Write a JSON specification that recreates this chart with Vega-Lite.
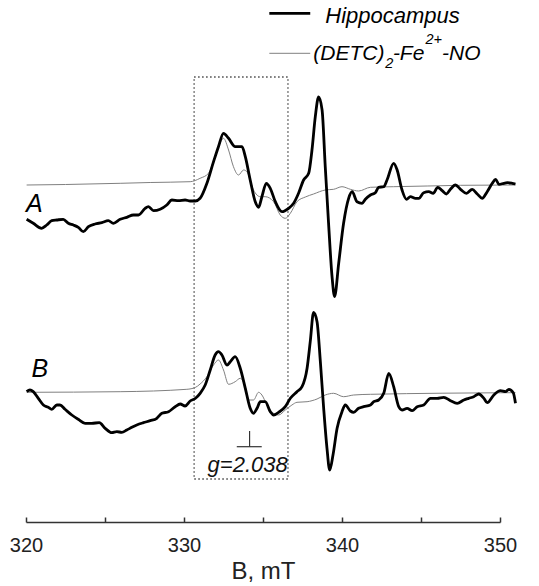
{
  "$schema": "https://vega.github.io/schema/vega-lite/v6.json",
  "width": 474,
  "height": 522,
  "autosize": "none",
  "padding": {"left": 26, "top": 0, "right": 39, "bottom": 64},
  "config": {"view": {"stroke": null}, "font": "Liberation Sans"},
  "datasets": {
    "hippA": [
      {"B":320.04,"I":302.7},{"B":320.46,"I":298.7},{"B":320.99,"I":293.7},{"B":321.31,"I":297},{"B":321.63,"I":301.3},{"B":321.95,"I":302},{"B":322.36,"I":302.7},{"B":322.68,"I":298.7},{"B":323.0,"I":297},{"B":323.31,"I":294.7},{"B":323.63,"I":290.3},{"B":323.95,"I":295.3},{"B":324.37,"I":298},{"B":324.8,"I":299.3},{"B":325.21,"I":301.3},{"B":325.53,"I":298.7},{"B":325.96,"I":302.7},{"B":326.38,"I":304.7},{"B":326.8,"I":307},{"B":327.12,"I":307},{"B":327.54,"I":313.7},{"B":327.75,"I":315.3},{"B":328.07,"I":311.3},{"B":328.49,"I":312.7},{"B":328.91,"I":317},{"B":329.23,"I":322},{"B":329.65,"I":321.3},{"B":330.07,"I":322},{"B":330.39,"I":321},{"B":330.71,"I":321},{"B":331.02,"I":323.7},{"B":331.45,"I":338.7},{"B":331.87,"I":360.3},{"B":332.18,"I":375.3},{"B":332.5,"I":388.7},{"B":332.82,"I":383.7},{"B":333.24,"I":375.3},{"B":333.67,"I":375.3},{"B":333.88,"I":365.3},{"B":334.19,"I":342},{"B":334.51,"I":320.3},{"B":334.72,"I":314.7},{"B":334.93,"I":325.3},{"B":335.21,"I":338.7},{"B":335.46,"I":333.7},{"B":335.78,"I":320.3},{"B":336.2,"I":310.3},{"B":336.62,"I":313.7},{"B":336.94,"I":318.7},{"B":337.25,"I":328.7},{"B":337.57,"I":342},{"B":337.89,"I":348.7},{"B":338.1,"I":372},{"B":338.31,"I":405.3},{"B":338.52,"I":425},{"B":338.74,"I":412},{"B":338.94,"I":355.3},{"B":339.15,"I":298.7},{"B":339.37,"I":245.3},{"B":339.53,"I":225.5},{"B":339.79,"I":258.7},{"B":340.1,"I":298.7},{"B":340.42,"I":323.7},{"B":340.64,"I":330.3},{"B":340.95,"I":320.3},{"B":341.27,"I":318.7},{"B":341.48,"I":322.7},{"B":341.8,"I":327},{"B":342.11,"I":329.3},{"B":342.32,"I":334.7},{"B":342.64,"I":335.3},{"B":342.85,"I":342},{"B":343.27,"I":358.7},{"B":343.49,"I":352},{"B":343.8,"I":332},{"B":344.08,"I":322.7},{"B":344.33,"I":325.3},{"B":344.65,"I":323.7},{"B":344.86,"I":323.7},{"B":345.17,"I":329.3},{"B":345.49,"I":330.3},{"B":345.77,"I":328.7},{"B":346.06,"I":334.7},{"B":346.34,"I":331.3},{"B":346.61,"I":328},{"B":346.86,"I":332.7},{"B":347.18,"I":337},{"B":347.5,"I":332.7},{"B":347.88,"I":328.7},{"B":348.24,"I":332.7},{"B":348.56,"I":328},{"B":348.87,"I":323.7},{"B":349.19,"I":330.3},{"B":349.51,"I":338.7},{"B":349.72,"I":342.7},{"B":349.93,"I":337.7},{"B":350.24,"I":338.7},{"B":350.46,"I":339.3},{"B":350.77,"I":338.7},{"B":350.98,"I":338}
    ],
    "detcA": [
      {"B":320.04,"I":337},{"B":322.5,"I":337.5},{"B":325.96,"I":338.7},{"B":327.86,"I":339.5},{"B":330.39,"I":340.3},{"B":331.02,"I":343.7},{"B":331.55,"I":348.7},{"B":331.97,"I":365.3},{"B":332.5,"I":383.7},{"B":332.82,"I":372},{"B":333.13,"I":355.3},{"B":333.45,"I":347},{"B":333.77,"I":352},{"B":333.98,"I":350.3},{"B":334.4,"I":332},{"B":334.83,"I":325.3},{"B":335.14,"I":325.3},{"B":335.67,"I":320.3},{"B":336.09,"I":307},{"B":336.41,"I":303.7},{"B":336.73,"I":308.7},{"B":337.15,"I":320.3},{"B":337.68,"I":325},{"B":338.2,"I":328},{"B":338.94,"I":332},{"B":339.47,"I":332.7},{"B":340.0,"I":335.3},{"B":340.53,"I":332.7},{"B":341.05,"I":331},{"B":341.8,"I":334.7},{"B":343.27,"I":335.3},{"B":345.39,"I":336},{"B":347.5,"I":336.7},{"B":350.98,"I":337}
    ],
    "hippB": [
      {"B":320.04,"I":130.3},{"B":320.25,"I":132},{"B":320.46,"I":130.3},{"B":320.78,"I":123.7},{"B":321.1,"I":117},{"B":321.41,"I":114.7},{"B":321.63,"I":112.7},{"B":321.95,"I":117},{"B":322.15,"I":117},{"B":322.47,"I":112.7},{"B":322.9,"I":107},{"B":323.31,"I":102.7},{"B":323.74,"I":98.7},{"B":324.16,"I":98.7},{"B":324.64,"I":99.3},{"B":325.01,"I":93.7},{"B":325.43,"I":89.3},{"B":325.75,"I":90.3},{"B":326.06,"I":89.7},{"B":326.38,"I":92},{"B":326.7,"I":94.7},{"B":327.01,"I":97},{"B":327.43,"I":99.3},{"B":327.86,"I":101.3},{"B":328.28,"I":103.7},{"B":328.6,"I":108.7},{"B":329.02,"I":110.3},{"B":329.44,"I":115.3},{"B":329.76,"I":118},{"B":330.07,"I":116},{"B":330.39,"I":121},{"B":330.71,"I":123.5},{"B":331.02,"I":128.7},{"B":331.34,"I":137},{"B":331.66,"I":152},{"B":331.97,"I":167},{"B":332.18,"I":170.3},{"B":332.4,"I":167},{"B":332.72,"I":157},{"B":332.93,"I":160.3},{"B":333.24,"I":165.3},{"B":333.56,"I":153.7},{"B":333.88,"I":133.7},{"B":334.19,"I":113.7},{"B":334.4,"I":108.7},{"B":334.62,"I":113.7},{"B":334.83,"I":120.3},{"B":335.14,"I":120.3},{"B":335.46,"I":110.3},{"B":335.67,"I":107},{"B":335.99,"I":109.7},{"B":336.41,"I":115.3},{"B":336.73,"I":123.7},{"B":337.15,"I":130.3},{"B":337.47,"I":135.3},{"B":337.79,"I":153.7},{"B":337.99,"I":180.3},{"B":338.2,"I":209.5},{"B":338.42,"I":200.3},{"B":338.63,"I":160.3},{"B":338.84,"I":113.7},{"B":339.05,"I":73.7},{"B":339.22,"I":52},{"B":339.43,"I":67},{"B":339.69,"I":93.7},{"B":340.0,"I":110.3},{"B":340.21,"I":117},{"B":340.53,"I":111},{"B":340.74,"I":109.7},{"B":341.05,"I":113.7},{"B":341.37,"I":115.3},{"B":341.8,"I":117},{"B":342.01,"I":120.3},{"B":342.32,"I":122},{"B":342.64,"I":128.7},{"B":342.96,"I":148.7},{"B":343.27,"I":135.3},{"B":343.59,"I":115.3},{"B":343.8,"I":112},{"B":344.12,"I":113.7},{"B":344.44,"I":111.3},{"B":344.76,"I":115.3},{"B":345.17,"I":117},{"B":345.6,"I":123.7},{"B":346.02,"I":123.7},{"B":346.44,"I":124.7},{"B":346.86,"I":121.3},{"B":347.29,"I":118.7},{"B":347.71,"I":122},{"B":348.02,"I":123.7},{"B":348.34,"I":125.3},{"B":348.66,"I":128},{"B":348.98,"I":123.7},{"B":349.19,"I":119.3},{"B":349.61,"I":127},{"B":350.03,"I":131.3},{"B":350.35,"I":130.3},{"B":350.56,"I":132.7},{"B":350.84,"I":129.3},{"B":350.98,"I":118.7}
    ],
    "detcB": [
      {"B":320.04,"I":129.7},{"B":325.96,"I":130.3},{"B":330.18,"I":132.7},{"B":330.71,"I":134.5},{"B":331.02,"I":138},{"B":331.45,"I":145.3},{"B":331.87,"I":157},{"B":332.18,"I":162},{"B":332.5,"I":152},{"B":332.82,"I":137.7},{"B":333.24,"I":140.3},{"B":333.56,"I":143.7},{"B":333.88,"I":135.3},{"B":334.09,"I":122},{"B":334.4,"I":122},{"B":334.72,"I":129.7},{"B":334.93,"I":127},{"B":335.25,"I":117},{"B":335.67,"I":108.7},{"B":335.99,"I":107},{"B":336.41,"I":112},{"B":336.83,"I":117},{"B":337.15,"I":119.7},{"B":337.79,"I":120.3},{"B":338.42,"I":123},{"B":338.94,"I":127},{"B":339.47,"I":128.7},{"B":340.1,"I":125.3},{"B":340.74,"I":127},{"B":341.8,"I":127.7},{"B":350.98,"I":129.3}
    ],
    "box": [{"B":330.64,"B2":336.58,"I":43,"I2":445}],
    "perp": [
      {"B":333.34,"B2":334.92,"I":75.3,"I2":75.3},
      {"B":334.15,"B2":334.15,"I":75.3,"I2":91}
    ],
    "legThick": [{"B":335.4,"B2":337.99,"I":508.7,"I2":508.7}],
    "legThin": [{"B":335.4,"B2":337.99,"I":468.7,"I2":468.7}],
    "legHippo": [
      {"B":338.94,"I":499.3,"t":"Hippocampus"}
    ],
    "legText": [
      {"B":338.18,"I":462.5,"t":"(DETC)"},
      {"B":343.22,"I":462.5,"t":"-Fe"},
      {"B":346.33,"I":462.5,"t":"-NO"}
    ],
    "legScript": [
      {"B":342.73,"I":454.3,"t":"2"},
      {"B":345.28,"I":478.2,"t":"2+"}
    ],
    "traceLabels": [
      {"B":320.0,"I":309.7,"t":"A"},
      {"B":320.35,"I":144.7,"t":"B"}
    ],
    "gLabel": [{"B":334.03,"I":50.3,"t":"g=2.038"}]
  },
  "encoding": {
    "x": {
      "field": "B", "type": "quantitative",
      "scale": {"domain": [320, 350], "nice": false, "zero": false},
      "axis": {
        "values": [320, 325, 330, 335, 340, 345, 350],
        "labelExpr": "datum.value % 10 == 0 ? datum.label : ''",
        "labelOverlap": false, "labelFlush": false,
        "grid": false,
        "tickSize": -5, "tickWidth": 1.5, "tickColor": "#333",
        "domainColor": "#333", "domainWidth": 1.5,
        "labelFont": "Liberation Sans", "labelFontSize": 20, "labelColor": "#222", "labelPadding": 18,
        "title": "B, mT", "titleFont": "Liberation Sans", "titleFontSize": 24, "titleFontWeight": "normal", "titleColor": "#222", "titlePadding": 4
      }
    },
    "y": {
      "field": "I", "type": "quantitative",
      "scale": {"domain": [0, 522], "nice": false, "zero": false},
      "axis": null
    }
  },
  "layer": [
    {"data": {"name": "box"}, "mark": {"type": "rect", "fillOpacity": 0, "stroke": "#444", "strokeWidth": 1.3, "strokeDash": [1.5, 2.5]},
     "encoding": {"x2": {"field": "B2"}, "y2": {"field": "I2"}}},
    {"data": {"name": "detcA"}, "mark": {"type": "line", "color": "#808080", "strokeWidth": 1, "interpolate": "monotone"}},
    {"data": {"name": "detcB"}, "mark": {"type": "line", "color": "#808080", "strokeWidth": 1, "interpolate": "monotone"}},
    {"data": {"name": "hippA"}, "mark": {"type": "line", "color": "#000", "strokeWidth": 2.8, "interpolate": "monotone"}},
    {"data": {"name": "hippB"}, "mark": {"type": "line", "color": "#000", "strokeWidth": 2.8, "interpolate": "monotone"}},
    {"data": {"name": "perp"}, "mark": {"type": "rule", "color": "#333", "strokeWidth": 1.2},
     "encoding": {"x2": {"field": "B2"}, "y2": {"field": "I2"}}},
    {"data": {"name": "legThick"}, "mark": {"type": "rule", "color": "#000", "strokeWidth": 2.8},
     "encoding": {"x2": {"field": "B2"}, "y2": {"field": "I2"}}},
    {"data": {"name": "legThin"}, "mark": {"type": "rule", "color": "#808080", "strokeWidth": 1},
     "encoding": {"x2": {"field": "B2"}, "y2": {"field": "I2"}}},
    {"data": {"name": "legHippo"}, "mark": {"type": "text", "align": "left", "baseline": "alphabetic", "fontSize": 22, "fontStyle": "italic", "font": "Liberation Sans", "color": "#000"},
     "encoding": {"text": {"field": "t"}}},
    {"data": {"name": "legText"}, "mark": {"type": "text", "align": "left", "baseline": "alphabetic", "fontSize": 21, "fontStyle": "italic", "font": "Liberation Sans", "color": "#000"},
     "encoding": {"text": {"field": "t"}}},
    {"data": {"name": "legScript"}, "mark": {"type": "text", "align": "left", "baseline": "alphabetic", "fontSize": 14.5, "fontStyle": "italic", "font": "Liberation Sans", "color": "#000"},
     "encoding": {"text": {"field": "t"}}},
    {"data": {"name": "traceLabels"}, "mark": {"type": "text", "align": "left", "baseline": "alphabetic", "fontSize": 25, "fontStyle": "italic", "font": "Liberation Sans", "color": "#000"},
     "encoding": {"text": {"field": "t"}}},
    {"data": {"name": "gLabel"}, "mark": {"type": "text", "align": "center", "baseline": "alphabetic", "fontSize": 22, "fontStyle": "italic", "font": "Liberation Sans", "color": "#111"},
     "encoding": {"text": {"field": "t"}}}
  ]
}
